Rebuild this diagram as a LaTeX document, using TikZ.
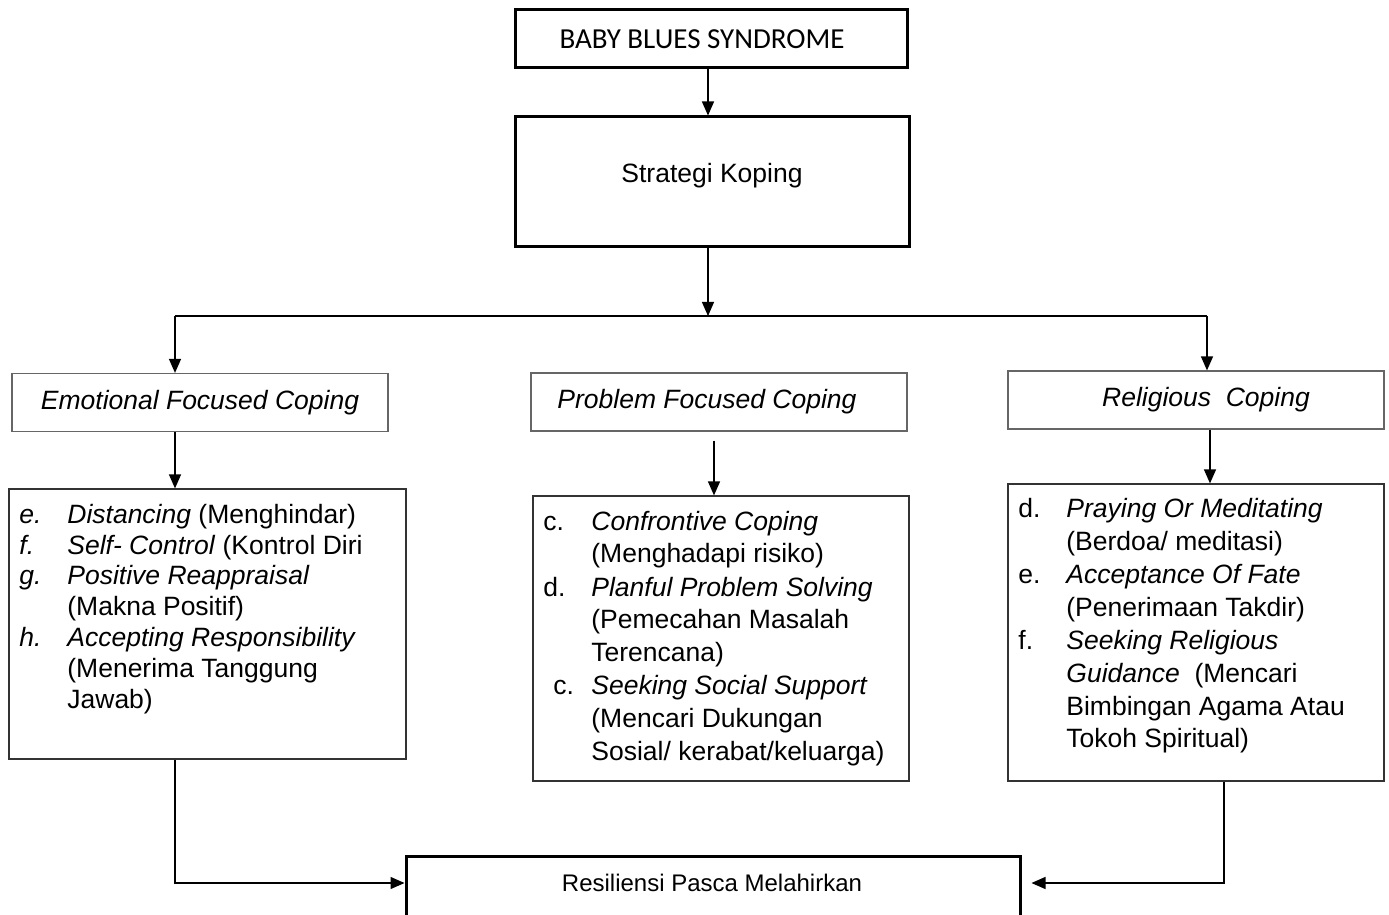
\documentclass[tikz,border=0pt]{standalone}
\usepackage{fontspec}
\setmainfont{Liberation Sans}
\newfontfamily\calibri{Carlito}
\usetikzlibrary{shapes,arrows.meta,positioning}

\begin{document}
\begin{tikzpicture}[x=0.5pt, y=-0.5pt,
    every node/.style={font=\fontsize{13.25pt}{16pt}\selectfont},
    thickbox/.style={rectangle, draw, line width=1.5pt, inner sep=0pt},
    headbox/.style={rectangle, draw=black!60, line width=0.6pt, minimum width=188pt, minimum height=29pt, inner sep=0pt, font=\fontsize{13.25pt}{16pt}\selectfont\itshape},
    listbox/.style={rectangle, draw=black!80, line width=0.6pt, inner sep=0pt},
    listtext/.style={anchor=base west, inner sep=0pt},
    arr/.style={-{Triangle[length=7pt,width=6pt]}, line width=0.65pt}]
    % Frame
    \clip (0,0) rectangle (1389,915);

    % Top
    \node[thickbox, minimum width=196pt, minimum height=29pt, font=\calibri\fontsize{14.5pt}{17pt}\selectfont] (baby) at (711,39) {BABY BLUES SYNDROME\hspace*{9pt}};
    \node[thickbox, minimum width=197pt, minimum height=65pt] (strat) at (712,182) {};
    \node (strattext) at (712,176) {Strategi Koping};

    % Coping types
    \node[headbox] (emo) at (200,402.5) {Emotional Focused Coping};
    \node[headbox] (prob) at (719,402) {Problem Focused Coping\hspace*{12pt}};
    \node[headbox] (reli) at (1196,400) {\hspace*{10pt}Religious\ \ Coping};

    % Lists
    \node[listbox, minimum width=198.5pt, minimum height=135pt] (emolist) at (207.5,624) {};
    \node[listbox, minimum width=188pt, minimum height=142.5pt] (problist) at (721,638.5) {};
    \node[listbox, minimum width=188pt, minimum height=148.5pt] (relilist) at (1196,632.5) {};

    \node[listtext, font=\fontsize{13.25pt}{15.5pt}\selectfont] (emotext) at (19,523) {\begin{tabular}[t]{@{}p{24pt}@{}l@{}}
        \textit{e.} & \textit{Distancing} (Menghindar)\\
        \textit{f.} & \textit{Self- Control} (Kontrol Diri\\
        \textit{g.} & \textit{Positive Reappraisal}\\
                    & (Makna Positif)\\
        \textit{h.} & \textit{Accepting Responsibility}\\
                    & (Menerima Tanggung\\
                    & Jawab)
    \end{tabular}};
    \node[listtext, font=\fontsize{13.25pt}{16.5pt}\selectfont] (probtext) at (543,530) {\begin{tabular}[t]{@{}p{24pt}@{}l@{}}
        c. & \textit{Confrontive Coping}\\
           & (Menghadapi risiko)\\
        d. & \textit{Planful Problem Solving}\\
           & (Pemecahan Masalah\\
           & Terencana)\\
        \hspace*{5pt}c. & \textit{Seeking Social Support}\\
           & (Mencari Dukungan\\
           & Sosial/ kerabat/keluarga)
    \end{tabular}};
    \node[listtext, font=\fontsize{13.25pt}{16.5pt}\selectfont] (relitext) at (1018,517) {\begin{tabular}[t]{@{}p{24pt}@{}l@{}}
        d. & \textit{Praying Or Meditating}\\
           & (Berdoa/ meditasi)\\
        e. & \textit{Acceptance Of Fate}\\
           & (Penerimaan Takdir)\\
        f. & \textit{Seeking Religious}\\
           & \textit{Guidance}\ \ (Mencari\\
           & Bimbingan Agama Atau\\
           & Tokoh Spiritual)
    \end{tabular}};

    % Result
    \node[thickbox, minimum width=307pt, minimum height=44pt] (resil) at (713,900) {};
    \node[font=\fontsize{12pt}{14pt}\selectfont] (resiltext) at (712,883) {Resiliensi Pasca Melahirkan};

    % Flows
    \coordinate (split) at (708,316);
    \coordinate (leftc) at (175,316);
    \coordinate (rightc) at (1207,316);
    \draw[arr] ([xshift=-1.5pt]baby.south) coordinate (b1) -- (b1 |- strat.north);
    \draw[arr] (strat.south -| split) -- (split);
    \draw[line width=0.65pt] (leftc) -- (rightc);
    \draw[arr] (leftc) -- (leftc |- emo.north);
    \draw[arr] (rightc) -- (rightc |- reli.north);
    \draw[arr] (emo.south -| leftc) -- (emolist.north -| leftc);
    \draw[arr] ([xshift=-2.5pt, yshift=-4.5pt]prob.south) coordinate (p1) -- (p1 |- problist.north);
    \draw[arr] ([xshift=7pt]reli.south) coordinate (r1) -- (r1 |- relilist.north);
    \draw[arr] (emolist.south -| leftc) |- (resiltext -| resil.west);
    \draw[arr, shorten >=5pt] ([xshift=14pt]relilist.south) |- (resiltext -| resil.east);
\end{tikzpicture}
\end{document}
